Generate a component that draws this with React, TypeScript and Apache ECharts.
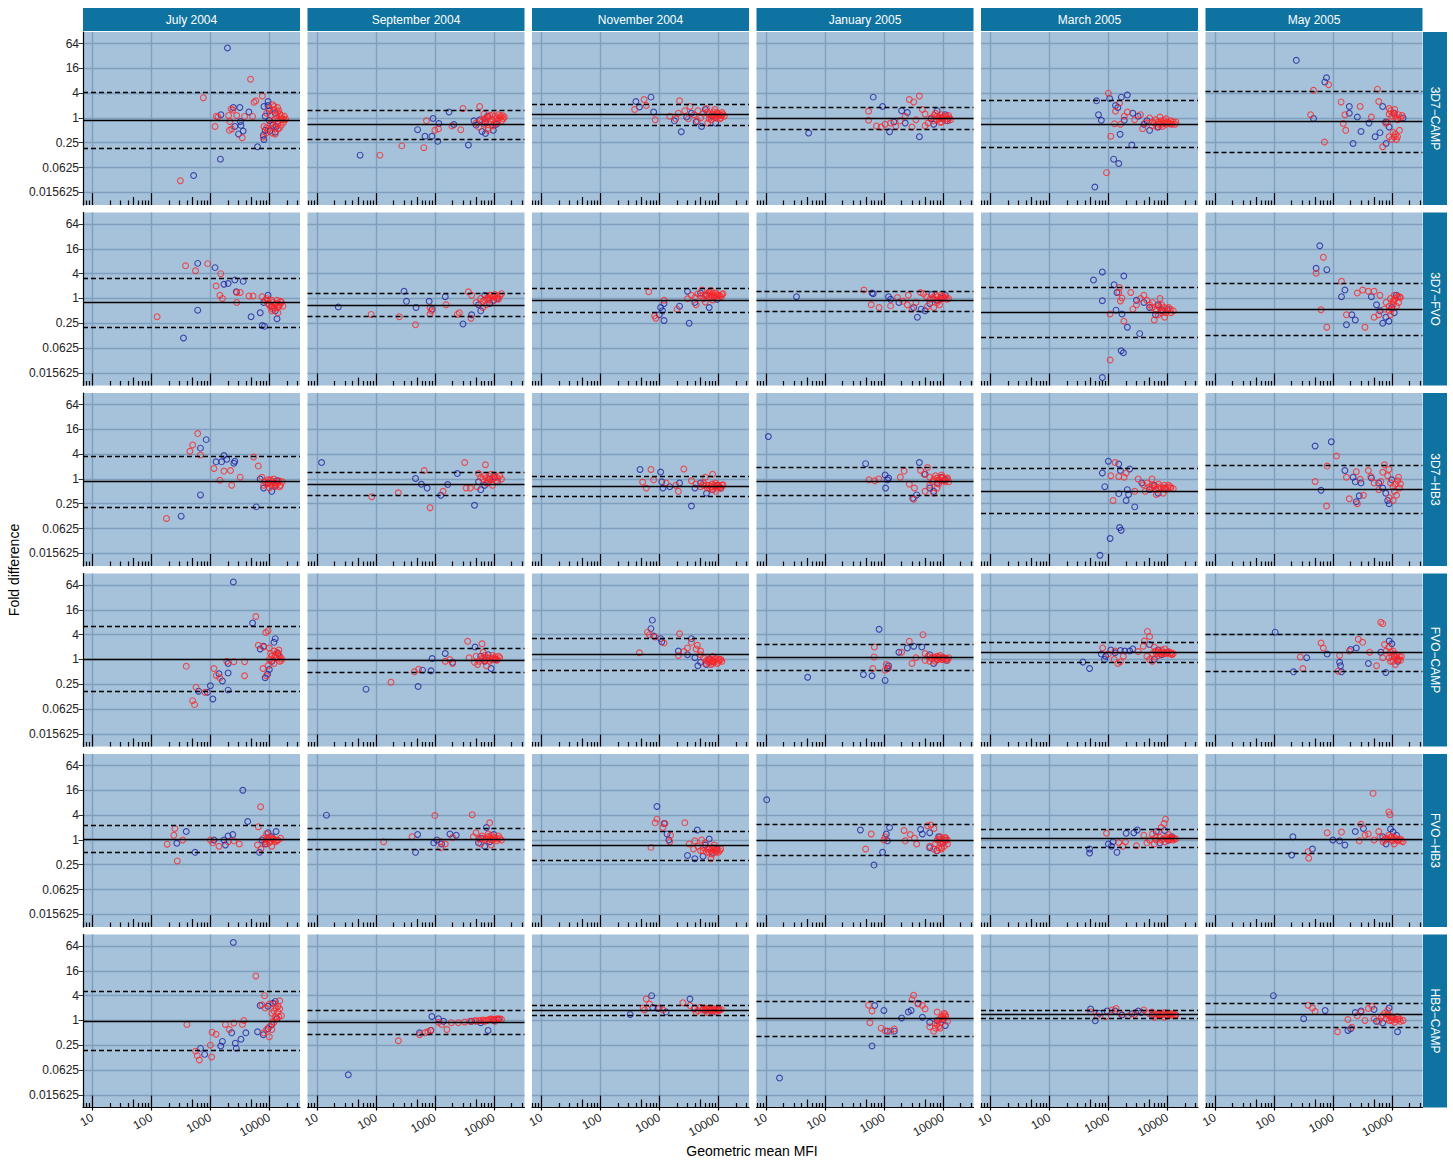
import React, { useEffect, useRef } from "react";
import * as echarts from "echarts";

// ---------- facets & axis ticks ----------
const months = ["July 2004", "September 2004", "November 2004", "January 2005", "March 2005", "May 2005"];
const pairs = ["3D7−CAMP", "3D7−FVO", "3D7−HB3", "FVO−CAMP", "FVO−HB3", "HB3−CAMP"];
const yTickValues = [0.015625, 0.0625, 0.25, 1, 4, 16, 64];
const xTickValues = [10, 100, 1000, 10000];

// ---------- mean difference & limits of agreement (fold), rows = pairs, cols = months ----------
const meanFold = [
  [0.87, 0.7, 1.2, 0.99, 0.72, 0.81],
  [0.79, 0.7, 0.9, 0.88, 0.47, 0.54],
  [0.86, 0.74, 0.655, 0.88, 0.51, 0.56],
  [1.03, 0.95, 1.31, 1.11, 1.5, 1.46],
  [1.06, 1.06, 0.75, 1.0, 1.09, 1.06],
  [0.98, 0.91, 1.78, 1.12, 1.39, 1.39],
];
const upperFold = [
  [4.17, 1.55, 2.13, 1.87, 2.66, 4.4],
  [3.14, 1.32, 1.74, 1.54, 1.92, 2.36],
  [3.48, 1.42, 1.14, 1.89, 1.79, 2.19],
  [6.3, 1.83, 3.2, 2.3, 2.57, 4.08],
  [2.33, 1.93, 1.67, 2.43, 1.83, 2.43],
  [5.06, 1.75, 2.36, 2.95, 1.75, 2.68],
];
const lowerFold = [
  [0.18, 0.31, 0.67, 0.525, 0.196, 0.148],
  [0.2, 0.37, 0.45, 0.49, 0.113, 0.125],
  [0.21, 0.395, 0.37, 0.395, 0.146, 0.146],
  [0.17, 0.5, 0.54, 0.55, 0.85, 0.525],
  [0.5, 0.6, 0.33, 0.43, 0.65, 0.48],
  [0.19, 0.47, 1.35, 0.42, 1.12, 0.69],
];

// ---------- points [geometric mean MFI, fold difference]; each array = 6 months ----------
const blue3D7CAMP = [
  [[1950,50],[520,0.04],[1480,0.1],[6300,0.2],[8100,0.3],[1510,1.2],[2450,1.8],[3160,1.8],[4500,1.4],[3240,0.82],[3300,0.66],[3600,0.48],[3000,0.41],[2600,0.62],[8100,1.9],[9500,2],[10000,1.5],[8500,1.1],[10000,0.87],[11500,0.66],[8500,0.5],[10200,0.48],[12600,0.45],[7900,0.38],[13200,0.62],[9500,2.5],[12600,1.3]],
  [[54,0.125],[680,0.36],[890,0.36],[1120,0.27],[510,0.52],[930,0.97],[1170,0.73],[1740,1.4],[2100,0.69],[3700,0.22],[4600,0.85],[7200,0.42],[5000,0.67],[6300,0.47],[7200,0.76],[9800,0.5],[5800,0.9],[7800,1.1],[11000,0.7]],
  [[720,3.2],[400,2.5],[460,1.85],[800,1.4],[1800,0.85],[2350,0.46],[2900,1.05],[4200,0.8],[6000,1.6],[8000,1.1],[5200,0.62],[9000,0.75],[3500,1.3]],
  [[53,0.43],[660,3.2],[950,1.9],[1250,0.46],[1480,0.8],[2000,1.5],[2500,1.35],[4000,0.35],[2300,0.75],[7000,0.7],[9500,1.0],[11000,1.2],[8000,1.5],[12000,0.85],[6300,0.95]],
  [[630,2.6],[1050,2.95],[1660,3.2],[2100,3.6],[680,1.2],[1320,2.0],[1450,1.8],[760,0.88],[1860,0.88],[1580,0.4],[2500,0.22],[1230,0.1],[1500,0.078],[590,0.021],[2600,1.3],[3200,1.1],[4000,0.7],[5000,0.5],[7000,0.6],[4500,0.85]],
  [[240,25],[780,9.4],[730,7.5],[470,0.97],[1900,1.9],[1900,1.3],[2600,1.05],[4100,0.75],[3000,0.47],[2200,0.24],[7000,1.9],[7900,0.8],[6300,0.44],[8000,0.24],[5200,0.35],[15500,1.0],[11000,1.3],[9000,0.6]],
];
const red3D7CAMP = [
  [[4800,8.7],[760,3.1],[7600,3.4],[5900,2.6],[5500,2.4],[310,0.03],[1200,0.62],[1260,1.1],[1350,1.05],[2240,1.66],[2400,1.55],[2040,1.15],[2800,1.15],[3800,1.09],[5200,1.09],[2140,0.82],[2300,0.54],[2100,0.5],[3470,0.33],[11500,2.1],[13800,1.8],[14500,1.5],[13200,1.15],[15100,1.23],[16600,0.93],[17800,0.9],[12600,0.93],[11200,0.76],[13800,0.71],[12300,0.6],[15800,0.66],[14100,0.54],[8900,0.57],[8100,0.62],[8900,0.43],[7900,0.34],[11200,0.43],[12600,0.41],[15800,1.0],[17400,0.78],[19000,0.93],[13800,1.4],[11700,1.6],[10500,1.15],[14800,0.57]],
  [[117,0.125],[275,0.21],[650,0.19],[720,0.85],[1000,0.5],[1150,0.54],[1950,0.64],[3000,1.7],[2750,0.52],[5750,1.9],[6800,1.25],[8000,0.5],[9500,1.2],[5000,0.75],[5900,0.85],[6900,0.95],[8000,1.05],[9500,0.92],[11000,1.0],[13000,1.1],[8800,0.8],[11500,0.85],[6900,0.7],[10000,0.72],[14500,0.95],[5600,0.6],[8000,0.56],[12000,1.2],[15000,1.05]],
  [[550,2.8],[380,1.6],[600,2.0],[850,0.9],[2200,2.6],[1500,1.1],[2100,1.3],[2700,1.5],[3300,1.9],[3900,1.2],[4500,1.5],[5000,1.0],[5600,1.3],[6300,1.7],[7000,1.2],[7600,0.9],[8300,1.4],[9100,1.1],[9800,1.25],[10500,0.95],[11500,1.15],[6600,0.75],[4400,0.85],[8700,1.6],[12600,1.1],[1900,0.95],[3100,0.95]],
  [[550,1.45],[550,0.88],[750,0.64],[900,0.6],[1050,0.7],[1300,0.75],[1600,0.63],[1900,0.85],[2300,1.1],[2700,2.8],[4000,3.4],[3200,2.45],[3000,0.6],[3500,0.9],[4500,1.6],[5000,1.25],[5600,0.75],[6300,1.0],[7100,1.15],[7900,0.9],[8900,1.05],[10000,0.95],[11200,1.1],[12000,0.95],[7500,1.3],[9000,0.78],[5000,0.65],[13000,1.0]],
  [[1000,4],[1320,1.45],[1550,2.3],[2100,1.4],[1860,1.1],[1270,0.72],[1600,0.7],[1100,0.36],[930,0.047],[2800,0.9],[3500,1.2],[4200,0.75],[5000,1.0],[5600,0.8],[6300,0.9],[7100,0.7],[7900,0.85],[8900,0.75],[10000,0.8],[11200,0.72],[12600,0.8],[6600,0.6],[8300,0.62],[9500,0.95],[13500,0.7],[3800,0.55],[7500,1.05]],
  [[850,6.4],[470,4.7],[5700,5],[420,1.2],[720,0.26],[1380,2.45],[2900,1.9],[1600,1.2],[1500,0.73],[1650,0.5],[4500,1.05],[6000,2.5],[9000,1.7],[11200,1.6],[7900,0.73],[11000,0.35],[12000,0.3],[7000,0.2],[14000,1.0],[10000,1.1],[12600,0.9],[9000,1.25],[13500,0.5],[10500,0.45]],
];
const redDense3D7CAMP = [
  [[9000,1.3],[10000,1.7],[12000,1.9],[16000,1.15],[18000,1.1],[14000,0.85],[10500,0.7],[9500,0.5]],
  [[7500,1.0],[8500,1.15],[10500,1.1],[12500,1.0],[14000,1.15],[6300,0.8],[7500,0.85],[9500,0.65],[11500,0.75],[13500,0.85]],
  [[7500,1.05],[8000,1.25],[9000,1.0],[9500,1.35],[10000,1.1],[10500,1.2],[11000,1.0],[12000,1.25],[6500,1.4],[7000,0.95],[8500,1.2],[11500,1.35]],
  [[8000,1.1],[8500,0.95],[9500,1.2],[10500,1.05],[11000,0.85],[12500,1.15],[13500,0.9],[9500,0.8],[7000,0.85]],
  [[5500,0.65],[6000,0.75],[7000,0.8],[7500,0.75],[8000,0.7],[9000,0.85],[9500,0.7],[10500,0.75],[11500,0.85],[12000,0.7],[14000,0.8]],
  [[9500,1.5],[10500,1.3],[11500,1.1],[12000,0.95],[13000,1.2],[9000,0.35],[10000,0.3],[11500,0.4],[12500,0.35],[8500,0.8],[15000,1.15]],
];

const blue3D7FVO = [
  [[610,7.1],[1200,5.6],[1700,2.2],[2000,2.3],[2600,2.8],[3600,2.6],[2750,1.45],[610,0.52],[350,0.11],[4900,0.36],[7600,0.22],[8300,0.21],[13500,0.32],[8000,0.8],[9500,1.2],[11000,0.65],[12600,0.5],[7000,0.45]],
  [[23,0.62],[300,1.5],[330,0.85],[480,0.6],[800,0.85],[1500,1.1],[900,0.55],[3000,0.24],[5500,0.7],[6000,0.5],[7000,1.2],[8500,0.75],[10000,0.9],[11500,1.0],[4200,0.4]],
  [[1050,0.6],[1130,0.5],[1000,0.4],[1200,0.29],[1200,0.75],[2200,0.65],[3200,0.25],[3000,1.5],[5000,1.35],[6300,1.2],[8500,1.1],[9500,0.95],[4000,0.8],[7000,0.6]],
  [[33,1.1],[630,1.35],[660,1.3],[1200,1.1],[1300,0.95],[1800,0.8],[3700,0.35],[4300,0.55],[5000,0.5],[6000,0.75],[7900,0.9],[9500,1.0],[11000,1.2],[6500,1.25],[3200,0.6]],
  [[790,4.4],[560,2.8],[1250,2.15],[1830,3.5],[1400,1.4],[790,0.88],[1350,0.52],[1700,0.42],[2100,0.2],[3400,0.14],[1650,0.054],[1800,0.048],[790,0.012],[4000,0.8],[5000,0.6],[6300,0.4],[8000,0.5],[7000,0.7],[3000,0.9],[10000,0.55]],
  [[600,19],[520,5.4],[790,5],[1600,1.6],[1400,1.1],[1700,0.23],[2400,0.3],[2100,0.4],[4500,1.1],[6300,0.5],[7900,0.35],[8900,0.28],[7000,0.25],[10000,0.6],[11000,0.45],[5500,0.7],[12000,1.2]],
];
const red3D7FVO = [
  [[380,6.2],[560,4.7],[900,7],[1500,4],[1250,2],[1450,1.2],[2800,1.4],[3200,1.4],[1600,1],[4500,1.15],[5300,1.15],[2800,0.8],[125,0.36],[7500,1.1],[8500,0.9],[9500,0.75],[10500,0.62],[11500,0.8],[12600,0.7],[13800,0.6],[15000,0.7],[16000,0.8],[11000,0.5],[14000,0.45],[9000,1.0],[17000,0.65]],
  [[83,0.41],[250,0.36],[470,0.23],[830,0.6],[830,0.42],[870,0.5],[1550,0.7],[2400,0.41],[2600,0.45],[3700,1.45],[4200,1.2],[4100,0.33],[5000,0.8],[6000,1.0],[7000,0.9],[8000,1.05],[9000,1.2],[10000,1.1],[11200,1.0],[12600,1.15],[7500,0.7],[9500,0.85],[13500,1.3],[6500,0.6]],
  [[660,1.45],[1200,0.9],[830,0.38],[870,0.33],[2000,0.55],[3000,0.98],[3500,1.2],[4000,1.05],[4500,1.3],[5000,1.15],[5600,1.0],[6300,1.25],[7100,1.1],[7900,1.3],[8900,1.15],[10000,1.2],[11200,1.1],[6000,0.82],[8000,0.92],[5300,1.6],[7500,1.55],[4200,0.7],[12000,1.3]],
  [[460,1.6],[610,0.7],[830,0.6],[1300,0.66],[1700,1.05],[2100,0.85],[2500,0.7],[3000,0.55],[3500,0.8],[4200,1.4],[4700,1.3],[5300,1.1],[6000,0.95],[6700,1.05],[7500,1.2],[8400,0.9],[9400,1.1],[10500,1.0],[11800,0.95],[5500,0.65],[7000,0.6],[8800,0.7],[2600,1.2]],
  [[1550,1.85],[1500,1.4],[1700,1.02],[1600,0.87],[2400,1.4],[1070,0.42],[1830,0.28],[1070,0.032],[3000,0.7],[3500,1.0],[4000,1.2],[4500,0.9],[5000,0.7],[5600,0.8],[6300,0.55],[7100,0.65],[7900,0.45],[8900,0.6],[10000,0.5],[11200,0.55],[12600,0.5],[9000,0.35],[6000,0.3],[2600,0.55],[7500,1.0]],
  [[690,10],[520,4.1],[1400,2.6],[630,0.53],[790,0.2],[2600,1.35],[3200,1.6],[4000,1.5],[5000,1.5],[6300,1.2],[1700,0.4],[3500,0.2],[5000,0.35],[6000,0.4],[8000,0.8],[9500,1.0],[11000,0.9],[12600,1.1],[14000,1.05],[10500,0.7],[9000,0.5],[7500,0.55],[13000,0.8]],
];
const redDense3D7FVO = [
  [[9500,0.9],[10000,0.7],[11000,0.9],[12000,0.6],[13000,0.75],[14500,0.65],[15500,0.85],[11500,0.55],[13500,0.9]],
  [[7500,1.0],[8500,0.95],[9500,1.1],[10500,1.25],[11500,1.15],[12000,0.95],[8500,1.2],[6500,0.85]],
  [[6000,1.15],[6800,1.35],[7500,1.2],[8500,1.05],[9000,1.35],[9500,1.25],[10500,1.15],[11500,1.25],[7000,1.45],[8000,1.1]],
  [[7000,1.0],[8000,1.1],[9000,0.95],[10000,1.15],[11000,1.05],[12500,1.0],[8000,0.8],[9500,1.25]],
  [[5500,0.6],[6500,0.5],[7500,0.6],[8500,0.5],[9500,0.45],[10500,0.6],[11500,0.45],[7000,0.4],[8000,0.7]],
  [[9000,0.65],[10000,0.55],[10500,0.85],[11500,1.0],[12000,0.65],[9500,0.4],[11000,1.2],[13500,1.1]],
];

const blue3D7HB3 = [
  [[850,9],[680,5.6],[1700,3.7],[1900,3.0],[1550,2.6],[2600,2.7],[2500,2.4],[1250,2.6],[680,0.41],[6000,0.21],[320,0.125],[8000,0.6],[9500,0.8],[11000,0.5],[12600,0.7],[7000,1.0],[13500,0.9]],
  [[12,2.5],[470,1.03],[590,0.74],[740,0.6],[1260,0.4],[1650,0.73],[2400,1.35],[4700,0.23],[5500,0.85],[7000,0.7],[8500,1.0],[10000,1.15],[6000,0.55],[11500,0.85]],
  [[470,1.7],[1050,1.47],[1100,0.85],[1500,0.65],[1150,0.6],[2200,0.8],[3500,0.22],[4000,0.6],[5000,0.8],[6300,0.45],[7900,0.55],[9500,0.7],[11000,0.6]],
  [[11,10.7],[490,2.35],[4000,2.5],[1050,1.25],[1200,1.05],[1150,0.95],[1070,0.6],[3600,0.41],[3100,0.34],[6000,0.6],[8000,0.8],[9500,1.1],[11000,0.95],[5000,1.3],[7000,0.5]],
  [[1000,2.7],[1500,2.3],[1600,1.6],[2300,1.75],[790,1.4],[870,0.65],[1500,0.44],[2000,0.3],[2800,0.21],[1550,0.066],[1650,0.057],[1070,0.036],[720,0.014],[2200,0.42],[2100,0.55],[3700,0.8],[5000,0.55],[7000,0.45],[6000,0.7],[9000,0.6]],
  [[500,6.3],[940,8],[630,0.53],[1600,1.6],[2200,1.1],[2400,0.85],[3000,0.8],[2800,0.39],[2500,0.28],[7000,0.6],[7900,0.45],[8500,0.3],[9000,0.25],[6000,0.8],[10000,0.95],[4500,1.05]],
];
const red3D7HB3 = [
  [[610,12.6],[500,6.7],[450,4.7],[680,3.8],[1150,1.8],[1700,1.55],[2200,1.6],[1450,0.93],[2300,0.7],[5400,3.4],[6500,2.05],[3200,1.1],[180,0.11],[7500,1.1],[8500,0.85],[9500,0.95],[10500,0.75],[11500,0.85],[12600,0.65],[14000,0.8],[15500,0.7],[10000,0.6],[16500,0.85],[12000,1.0],[8000,0.7]],
  [[85,0.37],[240,0.46],[660,1.6],[830,0.2],[1380,0.5],[3200,2.5],[7200,2.2],[3400,0.6],[4000,0.6],[5200,0.65],[6000,1.1],[7000,1.2],[8000,0.95],[9000,1.3],[10000,1.05],[11000,0.9],[12600,1.2],[7500,0.8],[9500,0.7],[5500,1.35],[13500,1.0]],
  [[720,1.7],[2600,1.75],[520,0.84],[600,0.6],[800,0.95],[1300,0.8],[2100,0.5],[1900,0.7],[3500,0.9],[4200,0.75],[5000,0.65],[5600,0.8],[6300,0.7],[7100,0.6],[7900,0.75],[8900,0.65],[10000,0.7],[11200,0.6],[6000,1.1],[8000,1.3],[9000,0.5],[12000,0.72]],
  [[560,0.95],[700,0.9],[820,1.0],[1900,1.1],[2200,1.55],[2700,0.75],[3300,0.6],[4200,1.6],[4800,1.3],[5500,1.9],[3200,0.32],[5000,0.5],[6000,1.1],[6700,0.85],[7500,1.2],[8400,0.95],[9400,1.05],[10500,0.9],[11800,1.0],[6000,0.7],[8000,0.6],[7000,0.45],[12600,0.85]],
  [[1300,2.5],[1100,1.2],[1500,1.15],[1850,1.1],[2000,1.4],[1200,0.3],[3200,1.0],[3900,0.72],[4500,0.8],[5000,0.65],[5600,0.7],[6300,0.55],[7100,0.75],[7900,0.6],[8900,0.7],[10000,0.62],[11200,0.65],[12600,0.58],[4200,0.5],[6500,0.42],[8500,0.45],[2800,0.5],[5500,1.0]],
  [[1150,3.6],[800,2.05],[500,0.87],[780,0.22],[1700,1.1],[2500,1.5],[2900,0.98],[4000,1.6],[4400,1.15],[5000,0.8],[7500,2.2],[8900,1.7],[7000,1.45],[6500,0.87],[1900,0.33],[2600,0.25],[3300,0.4],[9000,0.35],[10500,0.3],[11000,0.5],[12600,0.9],[14000,0.75],[13000,1.1],[6000,0.55]],
];
const redDense3D7HB3 = [
  [[9000,0.75],[10000,0.85],[11000,0.7],[12000,0.8],[13000,0.75],[14500,0.9],[10500,0.95],[15000,0.65]],
  [[6500,1.0],[7500,1.05],[8500,1.15],[9500,1.0],[10500,1.2],[11500,1.05],[8000,0.8]],
  [[5500,0.7],[6500,0.6],[7000,0.7],[7500,0.65],[8500,0.7],[9500,0.6],[10500,0.65],[11500,0.7],[8000,0.55],[9000,0.8]],
  [[7000,1.0],[8000,1.05],[9000,0.9],[10000,1.1],[11000,0.85],[12000,1.05],[9500,1.25],[8500,0.75]],
  [[5500,0.6],[6000,0.65],[7000,0.6],[7500,0.65],[8500,0.6],[9500,0.55],[10500,0.7],[11500,0.6]],
  [[9500,0.8],[10500,0.65],[11500,0.75],[12000,0.4],[8500,1.2],[13500,0.6]],
];

const blueFVOCAMP = [
  [[2450,76],[5200,7.7],[12600,3.2],[7000,1.8],[8000,2.1],[11000,0.9],[10000,0.57],[8500,0.36],[9300,0.44],[2000,0.8],[2000,0.47],[1400,0.45],[1000,0.23],[630,0.17],[890,0.16],[1100,0.11],[2000,0.18],[1600,0.3],[14000,1.4],[12000,2.6]],
  [[68,0.19],[520,0.22],[620,0.55],[860,0.53],[900,1.05],[1500,1.4],[2000,0.85],[4800,2.0],[9000,0.6],[7000,0.9],[8000,1.3],[10500,1.0],[6000,1.2]],
  [[760,9],[720,5.6],[800,3.7],[1050,3.2],[1100,2.7],[2100,1.6],[3000,1.3],[3500,3.2],[4000,1.1],[5000,0.85],[6300,0.75],[8000,0.9],[4500,0.7],[7000,1.0]],
  [[51,0.37],[450,0.43],[630,0.4],[1050,0.31],[830,5.4],[1200,0.7],[1150,0.6],[1800,1.5],[2500,1.9],[3200,2.1],[4400,2.0],[6000,1.3],[8000,1.0],[10000,1.1],[7000,0.8],[11500,0.95]],
  [[370,0.87],[480,0.6],[760,1.35],[900,1.2],[860,1.0],[1100,1.7],[1300,1.45],[1600,1.65],[1900,1.6],[2300,1.6],[2600,1.8],[5000,2.3],[6000,1.0],[8000,1.3],[10000,1.5],[7000,1.7]],
  [[105,4.6],[360,1.1],[215,0.5],[800,1.35],[1300,0.85],[1350,0.7],[1400,0.5],[2000,1.75],[2500,1.9],[7900,0.48],[9000,2.8],[10000,2.4],[4000,0.8],[6500,1.5],[11000,1.2],[12600,0.9]],
];
const redFVOCAMP = [
  [[5900,11],[9500,5],[8700,4.5],[6500,2.2],[8000,2.0],[10000,1.9],[14500,1.3],[12000,1.6],[11000,1.2],[13000,1.1],[15000,0.9],[7800,0.6],[8900,0.4],[1900,0.9],[2500,0.88],[3800,0.88],[1150,0.6],[1260,0.41],[1450,0.36],[390,0.68],[570,0.21],[500,0.1],[540,0.08],[810,0.16],[3800,0.4],[16000,1.05],[10500,1.4]],
  [[180,0.28],[450,0.5],[530,0.58],[1500,0.9],[1800,1.0],[2000,0.8],[3600,2.75],[6300,2.4],[6600,1.5],[3800,1.1],[4700,0.85],[5000,1.2],[5600,0.9],[6300,1.05],[7100,0.95],[7900,1.1],[8900,1.0],[10000,1.05],[11200,0.95],[12600,1.1],[7500,0.7],[9500,1.25],[5300,0.75]],
  [[630,4.6],[680,4],[850,3.5],[460,1.45],[1200,2.5],[2200,4.2],[3500,2.6],[4400,2.2],[4200,1.8],[2100,1.25],[5000,1.3],[5600,1.1],[6300,0.95],[7100,1.05],[7900,0.9],[8900,1.0],[10000,0.95],[6000,0.8],[7500,0.75],[5000,1.6],[9500,0.8],[11000,1.0],[8000,1.2],[3000,1.9],[2600,1.55]],
  [[690,2.0],[680,1.15],[650,0.6],[1100,0.75],[1050,0.55],[1200,0.62],[2700,2.75],[4600,4],[3500,1.1],[2000,1.5],[3000,0.8],[5000,1.4],[5600,1.2],[6300,1.05],[7100,1.15],[7900,1.0],[8900,1.1],[10000,1.0],[11200,1.05],[6000,0.9],[7500,0.9],[12600,1.1],[5000,0.95],[9000,1.25]],
  [[800,1.9],[1000,1.35],[1300,1.6],[1250,1.0],[1450,0.8],[1600,0.88],[1800,1.2],[3200,1.55],[3900,2.1],[4100,2.8],[4600,4.8],[5000,3.6],[4500,1.2],[5000,1.0],[5600,1.4],[6300,1.6],[7100,1.25],[7900,1.5],[8900,1.35],[10000,1.45],[11200,1.35],[6000,2.0],[9000,1.8],[12600,1.4],[5600,0.9]],
  [[280,1.15],[310,0.6],[630,2.5],[690,1.9],[1230,0.52],[1300,1.25],[1900,1.6],[2700,3.1],[3200,2.6],[6500,8],[7000,7.4],[4200,1.5],[5500,0.7],[7000,1.1],[8000,1.6],[8900,2.0],[10000,1.2],[11000,1.35],[12600,1.0],[14000,0.95],[9500,0.9],[11500,0.75],[13500,1.15],[7500,2.3]],
];
const redDenseFVOCAMP = [
  [[10000,1.0],[11500,0.95],[12500,1.3],[13500,1.5],[15000,1.2],[16000,0.95],[9500,0.7],[12000,0.8],[14500,1.7]],
  [[6500,1.0],[7500,1.1],[8500,0.9],[9500,1.05],[10500,1.15],[11500,1.0],[12000,1.2],[7000,1.25]],
  [[6500,0.9],[7000,0.85],[7500,1.0],[8500,0.9],[9000,1.05],[10000,0.85],[10500,1.0],[11500,0.9],[8000,0.8]],
  [[6500,1.1],[7500,1.05],[8500,1.15],[9500,1.0],[10500,1.1],[11500,1.05],[12000,0.95],[8000,1.2]],
  [[6500,1.4],[7500,1.35],[8500,1.5],[9500,1.4],[10500,1.55],[11500,1.45],[12000,1.3],[8000,1.7],[7000,1.5]],
  [[9500,1.5],[10500,1.6],[11500,1.1],[12000,1.3],[13000,1.0],[9000,1.1],[10500,0.9],[14500,1.2]],
];

const blueFVOHB3 = [
  [[3550,16],[4300,2.8],[390,1.6],[270,0.83],[550,0.5],[1150,1.0],[1700,1.0],[2000,1.25],[2400,1.35],[1800,0.75],[6800,0.5],[7500,1.0],[9500,1.5],[11000,1.2],[8500,0.8],[13000,1.6]],
  [[14.5,4],[470,0.5],[510,1.36],[960,0.85],[1080,1.0],[1300,0.8],[1800,1.4],[2300,1.3],[5500,0.85],[7000,0.7],[8500,0.9],[10000,1.35],[7500,2.0],[6000,1.1]],
  [[910,6.5],[1200,2.5],[1350,1.4],[1450,1.0],[4400,1.75],[3000,0.42],[4000,0.35],[5500,0.4],[8000,0.5],[9500,0.6],[6000,0.75],[7000,1.05]],
  [[10.3,9.4],[400,1.75],[1150,0.95],[1250,2.0],[1100,1.4],[950,0.5],[680,0.245],[4200,1.8],[4500,1.4],[6000,1.5],[6000,0.65],[7900,0.55],[10000,0.85],[8500,1.2],[11000,1.0]],
  [[480,0.6],[480,0.48],[1000,0.8],[1130,0.7],[1400,0.5],[1200,0.9],[2000,1.45],[2700,1.5],[3100,1.75],[6500,1.6],[9000,1.7],[10500,1.0],[7500,0.85],[12000,1.2]],
  [[210,1.2],[200,0.43],[450,0.6],[1000,1.0],[1300,0.95],[1600,0.75],[2400,1.6],[3300,1.9],[8000,0.8],[9500,1.85],[10500,1.55],[12000,1.3],[7000,1.2]],
];
const redFVOHB3 = [
  [[7100,6.4],[6500,2.1],[250,1.9],[240,1.3],[185,0.79],[340,1.0],[275,0.31],[1000,1.0],[1100,0.85],[1400,0.7],[2000,0.9],[2500,0.95],[3100,0.8],[6300,0.75],[7200,0.6],[8000,1.1],[9000,1.0],[10000,0.85],[11200,1.05],[12600,0.9],[14000,1.0],[9000,1.4],[11000,0.7],[15500,1.1]],
  [[135,0.9],[410,1.2],[1000,3.9],[4300,4.1],[1250,0.92],[1500,0.8],[2000,1.15],[1250,0.65],[8500,2.6],[4500,1.2],[5000,1.5],[5600,1.05],[6300,1.25],[7100,1.0],[7900,1.2],[8900,1.05],[10000,1.15],[11200,0.95],[12600,1.1],[6000,0.8],[9000,0.75],[8000,1.4],[13500,1.0]],
  [[910,3.2],[850,2.6],[1250,2.5],[1150,2.0],[1550,1.3],[1500,0.9],[2700,2.6],[720,0.66],[3200,0.8],[3800,0.6],[4500,0.7],[5000,0.55],[5600,0.65],[6300,0.5],[7100,0.6],[7900,0.45],[8900,0.55],[10000,0.5],[11000,0.6],[6000,0.85],[7500,0.35],[5200,1.0],[8500,0.75],[4000,0.95]],
  [[490,0.6],[610,1.4],[1050,1.2],[1000,1.0],[2200,1.7],[2300,0.95],[2800,1.35],[3300,1.1],[5500,2.2],[6300,2.3],[7100,1.9],[6000,0.7],[7000,0.6],[8000,0.55],[8500,1.05],[9000,1.2],[10000,0.9],[11200,1.1],[12000,0.8],[7500,0.8],[9500,0.65],[3600,0.8]],
  [[930,1.45],[1500,0.87],[1750,0.7],[1950,0.9],[4000,1.3],[4500,0.85],[5000,1.0],[5600,1.4],[6300,1.15],[7100,1.6],[7900,2.0],[8800,2.5],[9300,3.2],[8000,1.0],[9000,0.9],[10000,1.05],[11200,1.1],[12600,1.0],[6000,0.8],[10500,1.35],[14000,1.05],[3000,0.72]],
  [[380,0.52],[390,0.36],[1400,1.55],[800,1.5],[2800,0.95],[3500,1.3],[3000,2.4],[4000,1.4],[4800,13.5],[8900,4.8],[9300,4.1],[5000,1.0],[6300,1.2],[7100,0.9],[7900,1.1],[8900,1.3],[10000,1.0],[11200,1.15],[12600,0.95],[14000,1.05],[15500,0.9],[6000,1.6],[11000,0.8]],
];
const redDenseFVOHB3 = [
  [[8500,0.9],[9500,1.1],[10500,0.95],[11500,1.1],[12000,1.0],[13500,0.95],[10000,1.2],[9000,0.8]],
  [[6500,1.1],[7500,1.05],[8500,1.15],[9500,1.0],[10500,1.1],[11500,1.05],[12000,1.25],[9000,1.3]],
  [[5500,0.55],[6500,0.6],[7000,0.5],[7500,0.55],[8500,0.6],[9000,0.5],[9500,0.55],[10500,0.55],[8000,0.65]],
  [[8000,1.0],[9000,0.85],[9500,1.05],[10500,1.0],[11000,1.15],[8500,0.65],[9500,0.6],[10500,0.7],[12000,1.0]],
  [[6500,1.0],[7500,1.15],[8500,1.05],[9500,1.15],[10500,1.0],[11500,1.2],[12000,1.05],[13000,1.1]],
  [[7500,1.0],[8500,1.05],[9500,1.15],[10500,0.95],[11500,1.05],[13000,1.0],[14500,0.95],[10000,1.2]],
];

const blueHB3CAMP = [
  [[2450,78],[7000,2.3],[9500,2.2],[11500,2.6],[12600,2.9],[1500,0.24],[1600,0.31],[2650,0.28],[2750,0.21],[3300,0.35],[4000,0.5],[2300,0.5],[680,0.21],[800,0.15],[6300,0.53],[7900,0.45],[9500,0.63],[11000,0.8],[13500,1.1]],
  [[34,0.048],[550,0.5],[850,0.57],[890,1.25],[1150,1.1],[1400,0.95],[4200,0.95],[6000,0.88],[8000,0.57],[10000,1.0],[12000,1.05]],
  [[320,1.4],[740,4],[770,2.05],[950,1.95],[1300,1.6],[3300,3.3],[4000,2.0],[6000,1.8],[8000,1.6],[10000,1.85]],
  [[17,0.04],[630,0.24],[700,2.3],[1000,1.75],[1150,0.55],[1500,0.55],[2000,1.15],[2600,1.6],[2900,1.75],[3800,2.6],[4500,1.2],[6000,0.9],[8000,1.0],[10000,1.05],[11000,0.75]],
  [[600,0.98],[500,1.9],[700,1.5],[950,1.7],[1300,1.7],[1700,1.35],[2500,1.45],[3200,1.7],[3600,1.55],[5500,1.35],[8000,1.4],[10000,1.3]],
  [[98,4],[320,1.1],[740,1.75],[1800,0.57],[2000,0.63],[2400,1.55],[3000,1.7],[5000,1.85],[9000,2.0],[5500,0.95],[7000,0.87],[12500,0.53],[10000,1.2]],
];
const redHB3CAMP = [
  [[5900,12],[8300,4],[7500,2.4],[8500,2.0],[10000,2.5],[12600,2.5],[14000,2.2],[15000,3.0],[400,0.8],[1070,0.52],[1250,0.46],[1800,0.8],[2500,0.87],[3500,0.8],[2100,0.6],[3700,1.0],[1000,0.25],[560,0.18],[600,0.14],[650,0.11],[1050,0.13],[8000,0.5],[10000,0.4],[12000,0.9],[13000,1.1],[14500,1.25],[16000,1.3],[11000,0.6]],
  [[240,0.32],[550,0.45],[680,0.5],[760,0.53],[860,0.58],[1150,0.9],[1300,0.8],[1600,0.6],[1900,0.88],[2500,0.88],[3200,0.92],[3900,0.96],[4800,1.0],[5600,1.0],[6600,1.02],[7900,1.03],[9300,1.05],[11000,1.07],[12600,1.1],[13500,1.05],[7000,0.95],[10500,0.95],[9000,1.1]],
  [[600,3.3],[680,2.5],[530,2.0],[560,1.8],[1000,2.0],[1150,1.8],[2500,2.7],[3300,2.3],[3900,1.9],[4500,1.75],[5000,2.1],[5600,1.9],[6300,1.7],[7100,2.0],[7900,1.8],[8900,1.9],[10000,1.75],[11200,1.85],[4200,1.55],[6500,1.55],[9000,1.6]],
  [[550,2.35],[630,1.7],[580,0.88],[900,0.65],[1050,0.56],[1300,0.55],[1500,0.62],[3200,4.1],[3000,3.2],[3800,2.5],[4500,2.3],[5000,1.9],[6000,0.7],[7000,0.55],[7500,0.85],[8500,1.0],[9500,1.2],[10500,1.5],[11200,1.25],[12000,0.95],[8000,1.6],[9000,0.65]],
  [[500,1.6],[650,1.3],[900,1.25],[1150,1.8],[1350,1.95],[1600,1.5],[2200,1.3],[2800,1.4],[4000,1.8],[4800,1.5],[5500,1.6],[6300,1.35],[7100,1.5],[7900,1.4],[8900,1.55],[10000,1.35],[11200,1.45],[12600,1.3],[14000,1.35],[9000,1.2],[6000,1.2]],
  [[380,2.35],[450,2.0],[500,1.65],[1200,0.53],[2100,0.68],[1800,1.05],[2600,1.3],[3000,1.6],[4000,1.95],[4600,2.2],[3500,1.0],[5000,1.1],[6000,0.95],[6600,1.2],[7500,1.5],[8500,1.75],[10000,1.0],[11200,0.9],[12600,1.05],[14000,0.95],[15500,1.0],[9000,1.3]],
];
const redDenseHB3CAMP = [
  [[11000,1.5],[12000,1.7],[13000,2.0],[14000,1.6],[15000,1.9],[12500,1.2],[11500,0.95],[10000,0.7],[9000,0.6]],
  [[5000,0.95],[6000,1.0],[7500,1.0],[8500,1.05],[10000,1.05],[11500,1.1]],
  [[5500,1.8],[6000,2.0],[7000,1.85],[7500,1.75],[8000,1.95],[8500,1.8],[9500,1.85],[10500,1.8],[6500,1.9]],
  [[8000,0.8],[8500,0.7],[9000,1.1],[9500,0.9],[10000,1.3],[10500,1.1],[11000,1.4],[7500,0.65]],
  [[6000,1.45],[7000,1.4],[7500,1.3],[8500,1.45],[9500,1.4],[10500,1.5],[11500,1.35],[12500,1.45],[13500,1.3]],
  [[7000,1.3],[8000,1.1],[9000,1.0],[9500,1.2],[10500,1.15],[11500,1.05],[12500,1.25],[13500,1.1],[8500,1.4]],
];

const blueByPair = [blue3D7CAMP, blue3D7FVO, blue3D7HB3, blueFVOCAMP, blueFVOHB3, blueHB3CAMP];
const redByPair = [red3D7CAMP, red3D7FVO, red3D7HB3, redFVOCAMP, redFVOHB3, redHB3CAMP];
const redDenseByPair = [redDense3D7CAMP, redDense3D7FVO, redDense3D7HB3, redDenseFVOCAMP, redDenseFVOHB3, redDenseHB3CAMP];

// ---------- styling / layout ----------
const FONT = "'Liberation Sans', Arial, Helvetica, sans-serif";
const PANEL_BG = "#a5c2da";
const GRID_LINE = "#7f9fbd";
const STRIP = "#0e73a0";
const RED = "#ff2626";
const BLUE = "#1f1f9e";
const LEFT0 = 83;
const TOP0 = 32;
const PW = 217;
const PH = 173;
const DX = 224.5;
const DY = 180.5;
const X_MIN = 0.84;
const X_MAX = 4.52;
const Y_MIN = -7.02;
const Y_MAX = 6.93;
const AX_PER_GRID = 4;

function logTicks(mult: number[]) {
  const out: number[] = [];
  for (let d = 0; d <= 4; d++) {
    for (const k of mult) {
      const v = Math.log10(k * Math.pow(10, d));
      if (v >= X_MIN && v <= X_MAX) out.push(v);
    }
  }
  return out;
}

function buildOption() {
  const yTicks = yTickValues.map((v) => Math.log2(v));
  const xTicks = xTickValues.map((v) => Math.log10(v));
  const midTicks = logTicks([5]);
  const shortTicks = logTicks([2, 3, 4, 6, 7, 8, 9]);

  const grid: any[] = [];
  const xAxis: any[] = [];
  const yAxis: any[] = [];
  const series: any[] = [];
  const graphic: any[] = [];

  const tickAxis = (g: number, vals: number[], len: number, inside: boolean, show: boolean) => ({
    gridIndex: g, type: "value", min: X_MIN, max: X_MAX, position: "bottom",
    axisLine: { show: false, onZero: false }, axisLabel: { show: false }, splitLine: { show: false },
    axisTick: { show, inside, length: len, customValues: vals, lineStyle: { color: "#000", width: 1.2 } },
  });

  for (let r = 0; r < pairs.length; r++) {
    for (let c = 0; c < months.length; c++) {
      const g = r * months.length + c;
      const left = LEFT0 + DX * c;
      const top = TOP0 + DY * r;
      grid.push({
        left, top, width: PW, height: PH,
        show: true, backgroundColor: PANEL_BG, borderWidth: 0,
        containLabel: false, outerBoundsMode: "none",
      });
      const bottomRow = r === pairs.length - 1;
      xAxis.push({
        gridIndex: g, type: "value", min: X_MIN, max: X_MAX, position: "bottom",
        axisLine: { show: bottomRow, onZero: false, lineStyle: { color: "#000", width: 1.2 } },
        axisTick: { show: true, inside: true, length: 12, customValues: xTicks, lineStyle: { color: "#000", width: 1.2 } },
        axisLabel: {
          show: bottomRow, customValues: xTicks, rotate: 30, margin: 9,
          fontSize: 12, color: "#222", fontFamily: FONT,
          formatter: (v: number) => String(Math.round(Math.pow(10, v))),
        },
        splitLine: { show: true, lineStyle: { color: GRID_LINE, width: 1.4 } },
      });
      xAxis.push(tickAxis(g, midTicks, 8, true, true));
      xAxis.push(tickAxis(g, shortTicks, 4.5, true, true));
      xAxis.push(tickAxis(g, xTicks, 3, false, bottomRow));
      const firstCol = c === 0;
      yAxis.push({
        gridIndex: g, type: "value", min: Y_MIN, max: Y_MAX,
        axisLine: { show: firstCol, onZero: false, lineStyle: { color: "#000", width: 1.2 } },
        axisTick: { show: firstCol, length: 4.5, customValues: yTicks, lineStyle: { color: "#333", width: 1 } },
        axisLabel: {
          show: firstCol, customValues: yTicks, margin: 4, fontSize: 12, color: "#222", fontFamily: FONT,
          formatter: (v: number) => String(Math.pow(2, v)),
        },
        splitLine: { show: true, lineStyle: { color: GRID_LINE, width: 1.4 } },
      });

      const toXY = (p: number[]) => [Math.log10(p[0]), Math.log2(p[1])];
      series.push({
        type: "scatter", xAxisIndex: g * AX_PER_GRID, yAxisIndex: g, silent: true,
        data: blueByPair[r][c].map(toXY), symbol: "circle", symbolSize: 5.8,
        itemStyle: { color: "rgba(0,0,0,0)", borderColor: BLUE, borderWidth: 1.1 },
      });
      series.push({
        type: "scatter", xAxisIndex: g * AX_PER_GRID, yAxisIndex: g, silent: true,
        data: redByPair[r][c].concat(redDenseByPair[r][c]).map(toXY), symbol: "circle", symbolSize: 5.8,
        itemStyle: { color: "rgba(0,0,0,0)", borderColor: RED, borderWidth: 1.1 },
        markLine: {
          silent: true, symbol: ["none", "none"], label: { show: false },
          emphasis: { disabled: true },
          data: [
            { yAxis: Math.log2(meanFold[r][c]), lineStyle: { color: "#000", width: 1.3, type: "solid" } },
            { yAxis: Math.log2(upperFold[r][c]), lineStyle: { color: "#000", width: 1.4, type: [5, 3] } },
            { yAxis: Math.log2(lowerFold[r][c]), lineStyle: { color: "#000", width: 1.4, type: [5, 3] } },
          ],
        },
      });
    }
  }

  // top strips (months)
  months.forEach((m, c) => {
    const left = LEFT0 + DX * c;
    graphic.push({ type: "rect", shape: { x: left, y: 8, width: PW, height: 23 }, style: { fill: STRIP }, silent: true });
    graphic.push({
      type: "text", x: left + PW / 2, y: 20, silent: true,
      style: { text: m, fill: "#fff", fontSize: 12, fontFamily: FONT, align: "center", verticalAlign: "middle", textAlign: "center", textVerticalAlign: "middle" },
    });
  });
  // right strips (pairs)
  pairs.forEach((p, r) => {
    const top = TOP0 + DY * r;
    graphic.push({ type: "rect", shape: { x: 1423, y: top, width: 24, height: PH }, style: { fill: STRIP }, silent: true });
    graphic.push({
      type: "text", x: 1435, y: top + PH / 2, rotation: -Math.PI / 2, silent: true,
      style: { text: p, fill: "#fff", fontSize: 12, fontFamily: FONT, align: "center", verticalAlign: "middle", textAlign: "center", textVerticalAlign: "middle" },
    });
  });
  // axis titles
  graphic.push({
    type: "text", x: 14, y: 570, rotation: Math.PI / 2, silent: true,
    style: { text: "Fold difference", fill: "#000", fontSize: 14, fontFamily: FONT, align: "center", verticalAlign: "middle", textAlign: "center", textVerticalAlign: "middle" },
  });
  graphic.push({
    type: "text", x: 752, y: 1151, silent: true,
    style: { text: "Geometric mean MFI", fill: "#000", fontSize: 14, fontFamily: FONT, align: "center", verticalAlign: "middle", textAlign: "center", textVerticalAlign: "middle" },
  });

  return {
    animation: false,
    backgroundColor: "#ffffff",
    grid, xAxis, yAxis, series, graphic,
  };
}

export default function App() {
  const ref = useRef<HTMLDivElement>(null);
  useEffect(() => {
    if (!ref.current) return;
    const chart = echarts.init(ref.current, null, { renderer: "svg" });
    chart.setOption(buildOption() as any);
    return () => chart.dispose();
  }, []);
  return <div ref={ref} style={{ position: "absolute", left: 0, top: 0, width: 1453, height: 1160 }} />;
}
